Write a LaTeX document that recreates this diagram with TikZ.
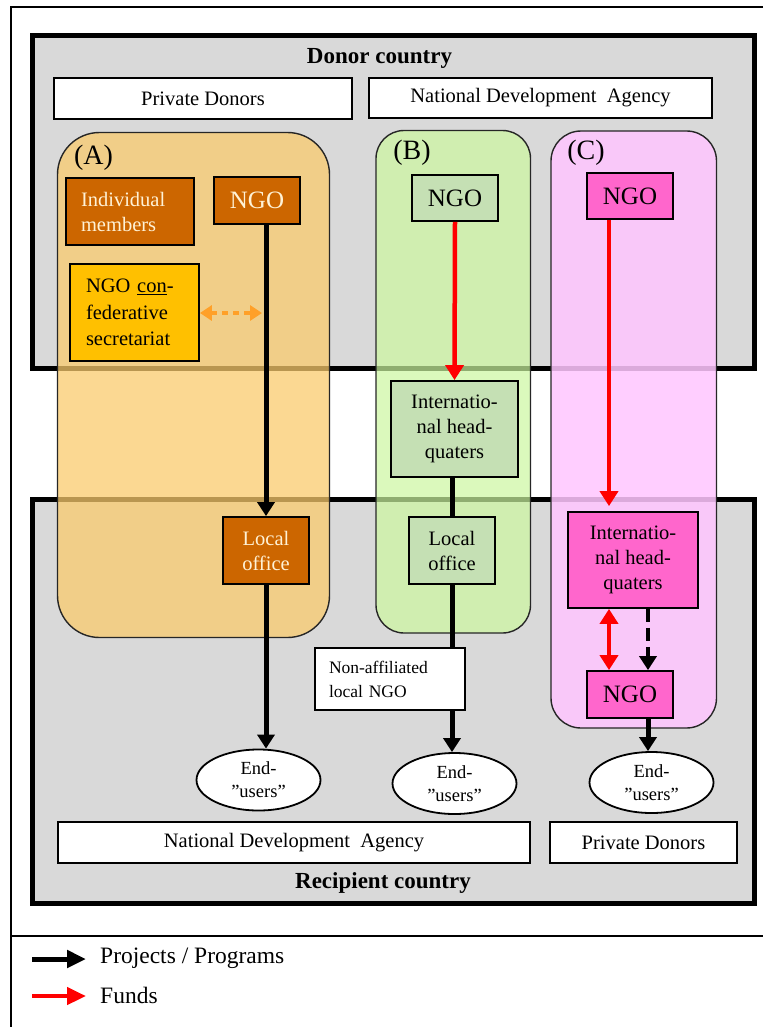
\documentclass[tikz,border=0pt]{standalone}
\usepackage{fontspec}
\setmainfont{Liberation Serif}
\usetikzlibrary{arrows.meta,shapes.geometric}
\definecolor{cgrey}{RGB}{217,217,217}
\definecolor{grpA}{RGB}{250,203,108}
\definecolor{grpB}{RGB}{205,247,160}
\definecolor{grpC}{RGB}{255,198,255}
\definecolor{nodeA}{RGB}{204,102,0}
\definecolor{nodeB}{RGB}{197,224,180}
\definecolor{nodeC}{RGB}{255,102,204}
\definecolor{secY}{RGB}{255,192,0}
\definecolor{creamtxt}{RGB}{255,242,214}
\definecolor{dotorange}{RGB}{255,160,40}
\definecolor{fundred}{RGB}{255,0,0}
\newcommand\fbody{\fontsize{20.5}{25}\selectfont}
\newcommand\fsec{\fontsize{20.5}{26.5}\selectfont}
\newcommand\fngo{\fontsize{25}{28}\selectfont}
\newcommand\flab{\fontsize{28}{30}\selectfont}
\newcommand\fend{\fontsize{18.5}{23}\selectfont}
\newcommand\fnon{\fontsize{17.5}{24}\selectfont}
\newcommand\ftitle{\fontsize{23}{26}\selectfont\bfseries}
\newcommand\fleg{\fontsize{23.5}{26}\selectfont}
\begin{document}
\begin{tikzpicture}[x=1pt,y=-1pt,
  country/.style={draw=black, line width=5pt, fill=cgrey},
  group/.style={draw=black!85, line width=1.4pt},
  box/.style={draw=black, line width=1.8pt, inner sep=0pt, font=\fbody, align=center},
  wbox/.style={box, fill=white},
  abox/.style={box, fill=nodeA, text=creamtxt},
  bbox/.style={box, fill=nodeB},
  cbox/.style={box, fill=nodeC},
  endu/.style={ellipse, draw=black, line width=1.8pt, fill=white, inner sep=0pt,
     minimum width=124pt, minimum height=61pt, font=\fend, align=center},
  title/.style={font=\ftitle, inner sep=0pt},
  glabel/.style={font=\flab, inner sep=0pt},
  proj/.style={draw=black, line width=5pt, -{Triangle[length=14pt,width=17pt]}},
  projline/.style={draw=black, line width=5pt},
  fund/.style={draw=fundred, line width=4.5pt, -{Triangle[length=15pt,width=18pt]}},
  fundboth/.style={draw=fundred, line width=4.5pt, {Triangle[length=15pt,width=18pt]}-{Triangle[length=15pt,width=18pt]}},
  projdash/.style={draw=black, line width=4.5pt, dash pattern=on 13pt off 6pt, -{Triangle[length=14pt,width=17pt]}},
  linkdot/.style={draw=dotorange, line width=4pt, dash pattern=on 6pt off 5pt, {Triangle[length=12pt,width=15pt]}-{Triangle[length=12pt,width=15pt]}},
  legtext/.style={font=\fleg, anchor=west, inner sep=0pt}
]
\useasboundingbox (0,0) rectangle (763,1027);
\fill[white] (0,0) rectangle (763,1027);
% outer frame
\draw[line width=2pt] (763,7) -- (11,7) -- (11,1027);
\draw[line width=2pt] (11,936) -- (763,936);
% country boxes
\path[country] (32,36) rectangle (754,368.5);
\path[country] (32,499) rectangle (754,903.5);
\node[title] (donor) at (379.5,58) {Donor country};
\node[title] (recip) at (383,883) {Recipient country};
% top and bottom actor boxes
\node[wbox, minimum width=298pt, minimum height=41pt] (pdTop) at (203,98.5) {Private Donors};
\node[wbox, minimum width=343pt, minimum height=40pt] (ndaTop) at (540.5,98) {National Development\ \ Agency};
\node[wbox, minimum width=472pt, minimum height=41pt] (ndaBot) at (294,842.5) {National Development\ \ Agency};
\node[wbox, minimum width=187pt, minimum height=41pt] (pdBot) at (643.5,842.5) {Private Donors};
% translucent groups
\path[group, fill=grpA, fill opacity=0.74, rounded corners=42pt] (57.5,132.5) rectangle (329.5,637.5);
\path[group, fill=grpB, fill opacity=0.70, rounded corners=28pt] (376,130.5) rectangle (530.5,633);
\path[group, fill=grpC, fill opacity=0.86, rounded corners=30pt] (551,131) rectangle (716.5,728);
\node[glabel] (labA) at (93.5,158) {(A)};
\node[glabel] (labB) at (412,153) {(B)};
\node[glabel] (labC) at (586,153) {(C)};
% group A
\node[abox, minimum width=128pt, minimum height=67pt, text width=98pt, align=left] (indiv) at (130,211.5) {Individual\\members};
\node[abox, font=\fngo, minimum width=86pt, minimum height=47pt] (ngoA) at (257,200.5) {NGO};
\node[box, fill=secY, font=\fsec, minimum width=129pt, minimum height=97pt, text width=97pt, align=left] (sec) at (134.5,312.5) {NGO \underline{con}-\\federative\\secretariat};
\node[abox, minimum width=86pt, minimum height=67pt] (locA) at (266,550.5) {Local\\office};
% group B
\node[bbox, font=\fngo, minimum width=86pt, minimum height=46pt] (ngoB) at (455,198) {NGO};
\node[bbox, minimum width=127pt, minimum height=96pt] (intB) at (454.5,429) {Internatio-\\nal head-\\quaters};
\node[bbox, minimum width=86pt, minimum height=67pt] (locB) at (452,550.5) {Local\\office};
\node[wbox, font=\fnon, minimum width=150pt, minimum height=62pt, text width=122pt, align=left] (nonaff) at (390,679) {Non-affiliated\\local NGO};
% group C
\node[cbox, font=\fngo, minimum width=86pt, minimum height=46pt] (ngoC) at (630,196) {NGO};
\node[cbox, minimum width=130pt, minimum height=96pt] (intC) at (633,560) {Internatio-\\nal head-\\quaters};
\node[cbox, font=\fngo, minimum width=86pt, minimum height=47pt] (ngoC2) at (630,694.5) {NGO};
% end users
\node[endu] (endA) at (258.5,780) {End-\\”users”};
\node[endu] (endB) at (454.5,783.5) {End-\\”users”};
\node[endu] (endC) at (651.5,782.5) {End-\\”users”};
% helper coordinates
\coordinate (cR) at (609,0);
\coordinate (cK) at (648,0);
\coordinate (oe) at (262,313);
% connectors A
\draw[proj] (locA.north |- ngoA.south) -- (locA.north);
\draw[proj] (locA.south) -- (locA.south |- endA.north);
\draw[linkdot] (sec.east |- oe) -- (oe);
% connectors B
\draw[fund] (ngoB.south) -- (intB.north);
\draw[projline] (locB.north |- intB.south) -- (locB.north);
\draw[projline] (locB.south) -- (nonaff.north -| locB.south);
\draw[proj] (nonaff.south -| locB.south) -- (locB.south |- endB.north);
% connectors C
\draw[fund, shorten >=5pt] (ngoC.south -| cR) -- (intC.north -| cR);
\draw[fundboth] (intC.south -| cR) -- (ngoC2.north -| cR);
\draw[projdash] (intC.south -| cK) -- (ngoC2.north -| cK);
\draw[proj] (ngoC2.south -| cK) -- (endC.north -| cK);
% legend
\coordinate (l1s) at (32,959);
\coordinate (l1e) at (86,959);
\coordinate (l2s) at (32,996);
\coordinate (l2e) at (86,996);
\draw[proj, -{Triangle[length=19pt,width=17pt]}] (l1s) -- (l1e);
\draw[fund, -{Triangle[length=19pt,width=17pt]}] (l2s) -- (l2e);
\node[legtext] (leg1) at (100,958) {Projects / Programs};
\node[legtext] (leg2) at (100,995) {Funds};
\end{tikzpicture}
\end{document}
